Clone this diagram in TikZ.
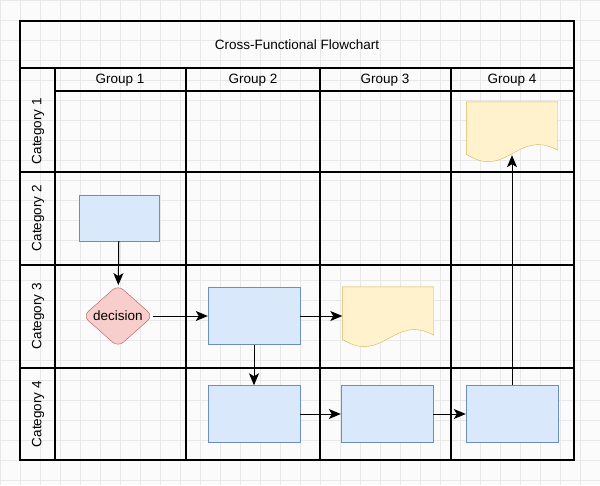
\documentclass[tikz,border=0pt]{standalone}
\usepackage{fontspec}
\setmainfont{Liberation Sans}
\usetikzlibrary{positioning, arrows.meta, shapes.geometric, calc}
\definecolor{boxfill}{HTML}{DAE8FC}
\definecolor{boxline}{HTML}{6C8EBF}
\definecolor{decfill}{HTML}{F8CECC}
\definecolor{decline}{HTML}{B85450}
\definecolor{docfill}{HTML}{FFF2CC}
\definecolor{docline}{HTML}{D6B656}

\begin{document}
\begin{tikzpicture}[x=1pt, y=-1pt,
    box/.style={rectangle, draw=boxline, fill=boxfill, minimum width=92pt, minimum height=57pt},
    decision/.style={diamond, draw=decline, fill=decfill, rounded corners=7pt, minimum width=70pt, minimum height=62pt, inner sep=0pt},
    doc/.style={rectangle, draw=none, minimum width=91pt, minimum height=58pt},
    arrow/.style={-{Stealth[length=12pt, width=10pt, inset=3pt]}, line width=1pt},
    lane/.style={line width=1.2pt},
    lbl/.style={font=\fontsize{13.5}{15}\selectfont}
]
    % background grid
    \useasboundingbox (0,0) rectangle (600,485);
    \fill[white!97!gray] (0,0) rectangle (600,485);
    \draw[gray!18, step=20pt] (0,0) grid (600,485);

    % pool frame and lanes
    \draw[lane] (20,21) rectangle (574,460);
    \draw[lane] (20,68) -- (574,68);
    \draw[lane] (55,91) -- (574,91);
    \foreach \y in {172,265,368} \draw[lane] (20,\y) -- (574,\y);
    \foreach \x in {55,186,320,451} \draw[lane] (\x,68) -- (\x,460);

    % titles
    \node[lbl] (title) at (297,45) {Cross-Functional Flowchart};
    \node[lbl] (g1) at (120,80) {Group 1};
    \node[lbl] (g2) at (253,80) {Group 2};
    \node[lbl] (g3) at (385,80) {Group 3};
    \node[lbl] (g4) at (512,80) {Group 4};
    \node[lbl, rotate=90] (c1) at (38,131) {Category 1};
    \node[lbl, rotate=90] (c2) at (38,218) {Category 2};
    \node[lbl, rotate=90] (c3) at (38,316) {Category 3};
    \node[lbl, rotate=90] (c4) at (38,414) {Category 4};

    % shapes
    \node[box, minimum width=80pt, minimum height=46pt] (start) at (119,218) {};
    \node[decision, lbl] (dec) at (118,316) {decision};
    \node[box] (step) at (254,316) {};
    \node[doc] (doca) at (388,316) {};
    \node[doc] (docb) at (512,131) {};
    \node[box] (stepa) at (254,414) {};
    \node[box] (stepb) at (387,414) {};
    \node[box] (stepc) at (512,414) {};

    % document outlines
    \foreach \d in {doca, docb}
        \draw[docline, fill=docfill] (\d.north west) -- (\d.north east)
            -- ($(\d.south east)+(0,-10)$)
            .. controls ($(\d.south east)+(-40,-32)$) and ($(\d.south west)+(40,20)$)
            .. ($(\d.south west)+(0,-6)$)
            -- cycle;

    % connectors
    \draw[arrow] (start) -- (dec);
    \draw[arrow] (dec) -- (step);
    \draw[arrow] (step) -- (doca);
    \draw[arrow] (step) -- (stepa);
    \draw[arrow] (stepa) -- (stepb);
    \draw[arrow] (stepb) -- (stepc);
    \draw[arrow] (stepc) -- ($(docb.south)+(0,-5)$);
\end{tikzpicture}
\end{document}
